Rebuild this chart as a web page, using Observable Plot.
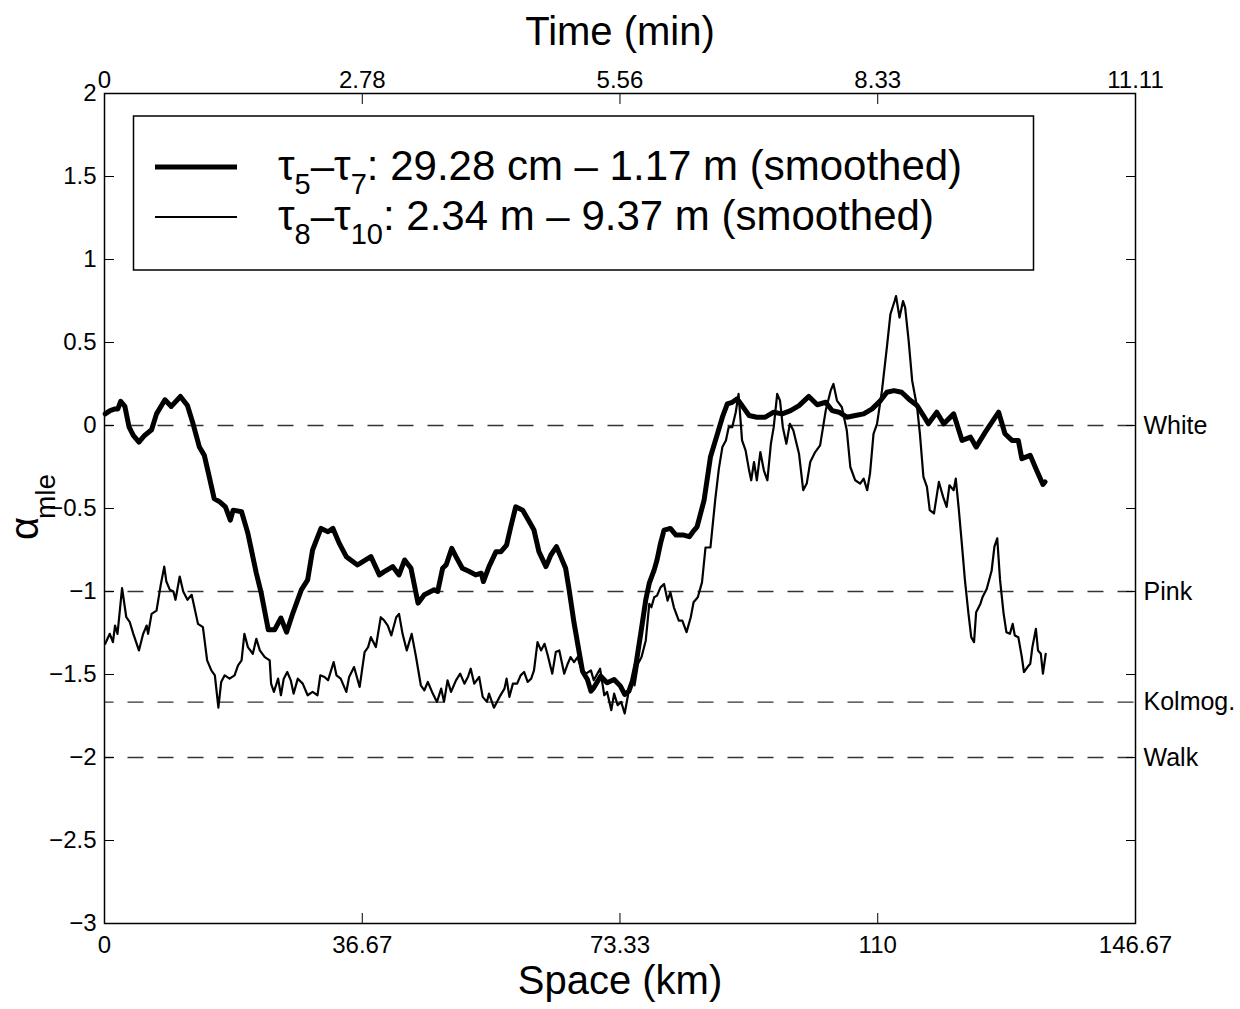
<!DOCTYPE html>
<html><head><meta charset="utf-8">
<script src="https://cdn.jsdelivr.net/npm/d3@7"></script>
<script src="https://cdn.jsdelivr.net/npm/@observablehq/plot@0.6"></script>
<style>body{margin:0;background:#fff} svg{display:block}</style>
</head><body><div id="chart"></div>
<script>
// Series A: tau5–tau7 (thick), km vs alpha_mle
const spaceA = [0.1,0.8,1.5,1.9,2.3,2.9,3.5,4.1,4.9,5.7,6.7,7.4,8.6,9.5,10.8,11.8,12.6,13.5,14.2,14.8,15.6,16.4,17.2,17.9,18.3,19.5,20.4,21.6,22.3,23.3,24.2,25.1,25.9,26.8,28.0,28.9,29.6,30.8,31.8,32.5,33.4,34.4,36.0,37.9,39.1,39.8,41.0,41.9,42.7,43.6,44.6,45.5,46.9,47.4,48.1,48.6,49.4,50.0,50.9,51.9,52.8,53.6,53.9,54.7,55.7,56.4,57.2,57.8,58.5,59.5,60.7,61.1,61.8,62.8,63.5,64.3,64.9,65.6,66.1,66.8,67.5,68.0,68.7,69.2,69.6,70.6,71.5,72.5,73.4,74.0,74.6,75.1,75.6,76.3,77.0,77.5,78.2,78.6,79.1,79.6,80.5,81.3,82.4,83.2,83.9,84.3,85.3,86.2,87.2,87.9,88.6,89.3,90.0,90.7,91.7,92.8,94.0,95.2,96.4,97.6,98.8,100.2,101.4,102.6,103.5,104.5,105.6,106.8,108.0,109.2,110.4,111.3,112.3,113.4,114.4,115.6,116.5,117.2,118.4,119.4,120.8,122.0,123.2,124.0,125.3,127.2,128.1,129.1,130.0,130.5,131.7,132.6,133.5,133.8];
const alphaA = [0.07,0.09,0.10,0.10,0.146,0.115,-0.01,-0.06,-0.10,-0.06,-0.026,0.07,0.155,0.115,0.175,0.12,0.01,-0.13,-0.18,-0.29,-0.44,-0.46,-0.49,-0.57,-0.51,-0.52,-0.65,-0.89,-1.01,-1.23,-1.23,-1.16,-1.245,-1.13,-0.99,-0.93,-0.75,-0.62,-0.64,-0.62,-0.71,-0.79,-0.84,-0.79,-0.90,-0.88,-0.85,-0.90,-0.81,-0.86,-1.07,-1.02,-0.99,-1.00,-0.86,-0.84,-0.74,-0.79,-0.86,-0.88,-0.90,-0.89,-0.94,-0.85,-0.76,-0.76,-0.72,-0.61,-0.49,-0.51,-0.60,-0.63,-0.76,-0.85,-0.78,-0.73,-0.79,-0.86,-0.99,-1.19,-1.36,-1.48,-1.53,-1.60,-1.58,-1.51,-1.55,-1.53,-1.57,-1.62,-1.60,-1.54,-1.44,-1.25,-1.05,-0.95,-0.87,-0.81,-0.71,-0.63,-0.62,-0.66,-0.66,-0.67,-0.63,-0.61,-0.45,-0.19,-0.05,0.05,0.13,0.14,0.16,0.12,0.06,0.05,0.05,0.08,0.07,0.09,0.12,0.175,0.125,0.14,0.09,0.08,0.05,0.06,0.07,0.10,0.15,0.20,0.21,0.20,0.16,0.12,0.06,0.01,0.08,0.01,0.07,-0.09,-0.07,-0.13,-0.04,0.08,-0.05,-0.09,-0.09,-0.20,-0.18,-0.27,-0.355,-0.34];

// Series B: tau8–tau10 (thin)
const spaceB = [0.1,0.75,1.2,1.5,1.85,2.5,3.1,3.6,4.1,4.9,5.5,6.0,6.2,6.7,7.4,8.0,8.5,8.8,9.3,9.8,10.1,10.7,11.2,11.8,12.4,13.3,14.0,14.6,15.2,15.7,16.2,16.6,17.1,17.8,18.5,19.0,19.5,19.9,20.4,21.1,21.6,22.1,22.8,23.5,23.7,24.1,24.7,25.1,25.5,26.0,26.5,26.9,27.5,28.2,28.9,29.6,30.3,30.7,31.3,31.8,32.6,33.0,33.6,34.4,34.8,35.5,36.3,37.0,37.5,37.9,38.6,39.3,39.8,40.3,40.8,41.5,41.9,42.4,43.0,43.7,44.3,45.0,45.5,46.0,46.7,47.3,47.9,48.3,48.8,49.3,50.0,50.6,51.2,51.7,52.1,52.6,53.3,53.8,54.4,54.7,55.4,56.2,56.9,57.2,57.6,58.1,58.7,59.2,59.7,60.2,60.7,61.1,61.6,62.1,62.6,63.0,63.7,64.2,64.7,65.4,65.9,66.3,66.8,67.3,67.8,68.5,69.2,69.6,70.5,71.1,71.5,72.1,72.5,73.0,73.5,74.0,74.6,75.0,75.4,75.9,76.4,77.0,77.5,77.8,78.2,78.6,79.1,79.6,80.1,80.5,81.0,81.7,82.2,82.8,83.4,83.8,84.4,85.0,85.5,86.2,86.9,87.4,87.9,88.4,88.8,89.3,89.8,90.2,90.7,91.2,91.7,92.0,92.4,92.8,93.3,93.8,94.3,94.8,95.2,95.7,96.1,96.5,97.0,97.5,98.0,98.8,99.4,99.9,100.4,101.1,101.8,102.6,103.3,103.7,104.2,104.9,105.6,106.1,106.8,107.5,108.0,108.5,108.9,109.4,109.9,110.6,111.3,111.8,112.4,112.6,113.1,113.6,113.9,114.4,114.9,115.6,116.0,116.5,117.0,117.4,118.0,118.7,119.3,119.8,120.2,120.8,121.1,121.5,122.0,122.4,122.9,123.3,123.7,124.0,124.6,124.9,125.5,126.2,126.6,127.0,127.4,127.9,128.3,128.8,129.2,129.5,130.0,130.5,130.8,131.3,131.7,132.0,132.5,132.8,133.2,133.5,133.9];
const alphaB = [-1.315,-1.255,-1.305,-1.205,-1.255,-0.98,-1.155,-1.185,-1.255,-1.355,-1.255,-1.205,-1.255,-1.135,-1.115,-0.96,-0.85,-0.94,-0.99,-1.00,-1.05,-0.91,-1.00,-1.05,-1.02,-1.195,-1.215,-1.415,-1.475,-1.505,-1.70,-1.545,-1.505,-1.525,-1.505,-1.445,-1.415,-1.255,-1.335,-1.375,-1.285,-1.355,-1.395,-1.415,-1.555,-1.605,-1.525,-1.625,-1.525,-1.485,-1.535,-1.615,-1.525,-1.555,-1.625,-1.605,-1.625,-1.505,-1.515,-1.535,-1.425,-1.505,-1.525,-1.605,-1.515,-1.455,-1.575,-1.365,-1.335,-1.275,-1.335,-1.155,-1.175,-1.205,-1.265,-1.155,-1.135,-1.255,-1.355,-1.255,-1.39,-1.565,-1.595,-1.545,-1.615,-1.665,-1.585,-1.665,-1.535,-1.605,-1.535,-1.495,-1.555,-1.515,-1.465,-1.555,-1.515,-1.635,-1.665,-1.615,-1.70,-1.635,-1.585,-1.525,-1.635,-1.555,-1.555,-1.505,-1.485,-1.545,-1.525,-1.475,-1.305,-1.355,-1.315,-1.375,-1.495,-1.365,-1.355,-1.495,-1.435,-1.395,-1.425,-1.395,-1.465,-1.495,-1.475,-1.535,-1.465,-1.625,-1.605,-1.715,-1.615,-1.685,-1.665,-1.735,-1.595,-1.535,-1.565,-1.435,-1.395,-1.295,-1.075,-1.095,-1.035,-1.025,-0.975,-0.955,-1.055,-1.005,-1.095,-1.175,-1.175,-1.245,-1.155,-1.065,-1.035,-0.945,-0.735,-0.735,-0.44,-0.26,-0.13,-0.09,-0.01,-0.01,0.08,0.19,-0.09,-0.15,-0.27,-0.33,-0.22,-0.33,-0.16,-0.27,-0.33,-0.11,-0.01,0.19,0.15,-0.01,-0.11,0.01,-0.03,-0.17,-0.39,-0.35,-0.22,-0.16,-0.12,0.09,0.21,0.25,0.15,0.11,-0.03,-0.25,-0.33,-0.35,-0.32,-0.39,-0.29,-0.05,0.01,0.21,0.47,0.67,0.75,0.78,0.65,0.75,0.71,0.51,0.27,0.11,-0.05,-0.31,-0.37,-0.51,-0.53,-0.34,-0.43,-0.49,-0.36,-0.39,-0.32,-0.49,-0.73,-0.93,-1.13,-1.275,-1.305,-1.125,-1.075,-1.035,-0.985,-0.875,-0.73,-0.68,-0.93,-1.13,-1.245,-1.255,-1.195,-1.265,-1.275,-1.395,-1.485,-1.455,-1.435,-1.335,-1.225,-1.355,-1.375,-1.495,-1.375];

const spaceTicks = [0, 36.67, 73.33, 110, 146.67];
const spaceTickLabels = ["0", "36.67", "73.33", "110", "146.67"];
const timeTickLabels = ["0", "2.78", "5.56", "8.33", "11.11"];
const alphaTicks = [2, 1.5, 1, 0.5, 0, -0.5, -1, -1.5, -2, -2.5, -3];
const levelValues = [0, -1, -5/3, -2];
const levelNames = ["White", "Pink", "Kolmog.", "Walk"];

const rowsA = spaceA.map((x, i) => ({x, y: alphaA[i]}));
const rowsB = spaceB.map((x, i) => ({x, y: alphaB[i]}));
const fmt = d => String(d).replace("-", "\u2212");
const FONT = "'Liberation Sans', Arial, Helvetica, sans-serif";

const chart = Plot.plot({
  width: 1240, height: 1009,
  marginLeft: 104, marginRight: 105, marginTop: 93, marginBottom: 86,
  style: {fontFamily: FONT, fontSize: "24px", background: "white", color: "black"},
  x: {domain: [0, 146.67], axis: null},
  y: {domain: [-3, 2], axis: null},
  marks: [
    Plot.ruleY(levelValues, {stroke: "#333", strokeWidth: 1.3, strokeDasharray: "16,14", strokeDashoffset: 6.5}),
    Plot.line(rowsB, {x: "x", y: "y", stroke: "black", strokeWidth: 2.2, strokeLinejoin: "round"}),
    Plot.line(rowsA, {x: "x", y: "y", stroke: "black", strokeWidth: 5, strokeLinejoin: "round", strokeLinecap: "round"}),
    Plot.frame({stroke: "black", strokeWidth: 1.5}),
    // inward ticks
    Plot.axisX(spaceTicks, {anchor: "bottom", tickSize: -10, tickFormat: () => "", label: null}),
    Plot.axisX(spaceTicks, {anchor: "top", tickSize: -10, tickFormat: () => "", label: null}),
    Plot.axisY(alphaTicks, {anchor: "left", tickSize: -10, tickFormat: () => "", label: null}),
    Plot.axisY(alphaTicks, {anchor: "right", tickSize: -10, tickFormat: () => "", label: null}),
    // labels
    Plot.axisX(spaceTicks, {anchor: "bottom", tickSize: 0, tickPadding: 12, fontSize: 24,
      tickFormat: d => spaceTickLabels[spaceTicks.indexOf(d)], label: null}),
    Plot.axisX(spaceTicks, {anchor: "top", tickSize: 0, tickPadding: 6, fontSize: 24,
      tickFormat: d => timeTickLabels[spaceTicks.indexOf(d)], label: null}),
    Plot.axisY(alphaTicks, {anchor: "left", tickSize: 0, tickPadding: 8, fontSize: 24, tickFormat: fmt, label: null}),
    Plot.axisY(levelValues, {anchor: "right", tickSize: 0, tickPadding: 8, fontSize: 25,
      tickFormat: d => levelNames[levelValues.indexOf(d)], label: null}),
    // axis titles
    Plot.text(["Time (min)"], {frameAnchor: "top", lineAnchor: "middle", dy: -61, fontSize: 40}),
    Plot.text(["Space (km)"], {frameAnchor: "bottom", lineAnchor: "middle", dy: 58, fontSize: 40}),
    Plot.text(["\u03b1"], {frameAnchor: "left", textAnchor: "middle", lineAnchor: "middle", rotate: -90, dx: -79, dy: 20, fontSize: 40}),
    Plot.text(["mle"], {frameAnchor: "left", textAnchor: "middle", lineAnchor: "middle", rotate: -90, dx: -58, dy: -12, fontSize: 28})
  ]
});

// Legend box
const svg = d3.select(chart);
const lg = svg.append("g").attr("font-family", FONT).attr("text-anchor", "start");
lg.append("rect").attr("x", 133.5).attr("y", 116).attr("width", 900).attr("height", 154)
  .attr("fill", "white").attr("stroke", "black").attr("stroke-width", 1.5);
const entries = [
  {w: 5, y: 167, parts: [["\u03c4", 0], ["5", 1], ["\u2013\u03c4", 0], ["7", 1], [": 29.28 cm \u2013 1.17 m (smoothed)", 0]]},
  {w: 2, y: 217, parts: [["\u03c4", 0], ["8", 1], ["\u2013\u03c4", 0], ["10", 1], [": 2.34 m \u2013 9.37 m (smoothed)", 0]]}
];
entries.forEach(e => {
  lg.append("line").attr("x1", 155).attr("x2", 237).attr("y1", e.y).attr("y2", e.y)
    .attr("stroke", "black").attr("stroke-width", e.w);
  const t = lg.append("text").attr("x", 278).attr("y", e.y + 13).attr("font-size", 42)
    .attr("fill", "black").attr("text-anchor", "start");
  let sub = false;
  e.parts.forEach(([s, isSub]) => {
    const ts = t.append("tspan").text(s);
    if (isSub && !sub) { ts.attr("dy", 14).attr("font-size", 29); sub = true; }
    else if (isSub && sub) { ts.attr("font-size", 29); }
    else if (!isSub && sub) { ts.attr("dy", -14); sub = false; }
  });
});

document.getElementById("chart").appendChild(chart);
</script>
</body></html>
